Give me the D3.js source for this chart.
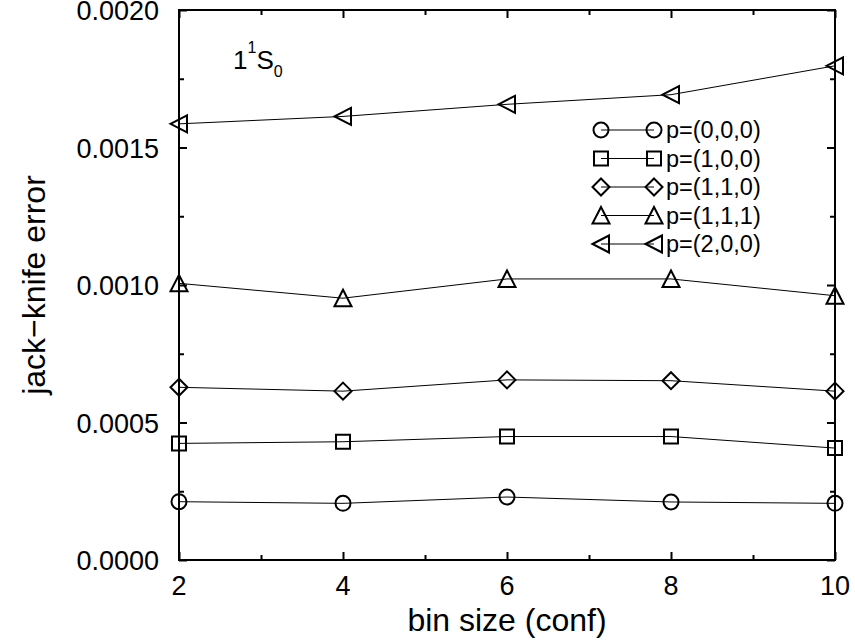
<!DOCTYPE html>
<html>
<head>
<meta charset="utf-8">
<script src="https://cdn.jsdelivr.net/npm/d3@7"></script>
<style>
  html, body { margin: 0; padding: 0; background: #fff; }
  svg { display: block; font-family: "Liberation Sans", Arial, Helvetica, sans-serif; }
</style>
</head>
<body>
<svg id="chart" width="855" height="644"></svg>
<script>
// ---- data ----
const binSizes = [2, 4, 6, 8, 10];
const seriesNames = ["p=(0,0,0)", "p=(1,0,0)", "p=(1,1,0)", "p=(1,1,1)", "p=(2,0,0)"];
const seriesSymbols = ["circle", "square", "diamond", "triangleUp", "triangleLeft"];
const err000 = [0.000212, 0.000206, 0.000229, 0.000211, 0.000206];
const err100 = [0.000424, 0.000430, 0.000449, 0.000449, 0.000407];
const err110 = [0.000628, 0.000614, 0.000655, 0.000652, 0.000614];
const err111 = [0.001006, 0.000952, 0.001022, 0.001022, 0.000961];
const err200 = [0.001586, 0.001613, 0.001657, 0.001692, 0.001797];
const seriesValues = [err000, err100, err110, err111, err200];
const xMajorTicks = [2, 4, 6, 8, 10];
const xMinorTicks = [3, 5, 7, 9];
const yMajorTicks = [0, 0.0005, 0.0010, 0.0015, 0.0020];
const yMinorTicks = [0.00025, 0.00075, 0.00125, 0.00175];
const xLabel = "bin size (conf)";
const yLabel = "jack\u2212knife error";

// ---- layout ----
const L = 179, R = 835, T = 10, B = 560;

const svg = d3.select("#chart");
const x = d3.scaleLinear().domain([2, 10]).range([L, R]);
const y = d3.scaleLinear().domain([0, 0.002]).range([B, T]);

function txt(g, tx, ty, str, size, anchor) {
  return g.append("text")
    .attr("x", tx).attr("y", ty)
    .attr("text-anchor", anchor || "start")
    .attr("font-size", size)
    .attr("fill", "#000")
    .text(str);
}

// ---- axes (ticks inward, mirrored) ----
function tickAxis(axisFn, scale, values, size, tr) {
  const g = svg.append("g").attr("transform", tr)
    .call(axisFn(scale).tickValues(values).tickSize(size).tickFormat(""));
  g.select(".domain").remove();
  g.selectAll(".tick line").attr("stroke", "#000").attr("stroke-width", 2);
  return g;
}
const MAJ = 8, MIN = 5;
tickAxis(d3.axisBottom, x, xMajorTicks, -MAJ, `translate(0,${B})`);
tickAxis(d3.axisBottom, x, xMinorTicks, -MIN, `translate(0,${B})`);
tickAxis(d3.axisTop, x, xMajorTicks, -MAJ, `translate(0,${T})`);
tickAxis(d3.axisTop, x, xMinorTicks, -MIN, `translate(0,${T})`);
tickAxis(d3.axisLeft, y, yMajorTicks, -MAJ, `translate(${L},0)`);
tickAxis(d3.axisLeft, y, yMinorTicks, -MIN, `translate(${L},0)`);
tickAxis(d3.axisRight, y, yMajorTicks, -MAJ, `translate(${R},0)`);
tickAxis(d3.axisRight, y, yMinorTicks, -MIN, `translate(${R},0)`);

svg.append("rect")
  .attr("x", L).attr("y", T).attr("width", R - L).attr("height", B - T)
  .attr("fill", "none").attr("stroke", "#000").attr("stroke-width", 2);

// tick labels
const labels = svg.append("g");
xMajorTicks.forEach(v => txt(labels, x(v), 595, d3.format("d")(v), 27, "middle"));
yMajorTicks.forEach(v => txt(labels, 159, y(v) + 10, d3.format(".4f")(v), 27, "end"));

// axis titles
txt(svg, (L + R) / 2, 631, xLabel, 32, "middle");
svg.append("text")
  .attr("transform", `translate(45,${(T + B) / 2}) rotate(-90)`)
  .attr("text-anchor", "middle").attr("font-size", 32).attr("fill", "#000")
  .text(yLabel);

// annotation 1^1S_0
const ann = svg.append("text")
  .attr("x", 233).attr("y", 69)
  .attr("font-size", 26).attr("fill", "#000");
ann.append("tspan").text("1");
ann.append("tspan").attr("font-size", 16).attr("dy", -16).text("1");
ann.append("tspan").attr("dy", 16).text("S");
ann.append("tspan").attr("font-size", 16).attr("dy", 8).text("0");

// ---- markers ----
function markerPath(type) {
  switch (type) {
    case "circle": return "M7.5,0A7.5,7.5 0 1,1 -7.5,0A7.5,7.5 0 1,1 7.5,0Z";
    case "square": return "M-7,-7H7V7H-7Z";
    case "diamond": return "M0,-8.5L8.5,0L0,8.5L-8.5,0Z";
    case "triangleUp": return "M0,-8.5L8.5,8L-8.5,8Z";
    case "triangleLeft": return "M-8.5,0L8,-8.5L8,8.5Z";
  }
}

const line = d3.line().x(d => x(d[0])).y(d => y(d[1]));
const plot = svg.append("g");
seriesValues.forEach((vals, i) => {
  const pts = binSizes.map((b, j) => [b, vals[j]]);
  plot.append("path").datum(pts).attr("d", line)
    .attr("fill", "none").attr("stroke", "#000").attr("stroke-width", 1);
  plot.selectAll(null).data(pts).enter().append("path")
    .attr("transform", d => `translate(${x(d[0])},${y(d[1])})`)
    .attr("d", markerPath(seriesSymbols[i]))
    .attr("fill", "none").attr("stroke", "#000").attr("stroke-width", 2);
});

// ---- legend ----
const leg = svg.append("g");
const legY0 = 130, legDY = 28.5, legX1 = 601, legX2 = 654, legTX = 666;
seriesNames.forEach((name, i) => {
  const yy = legY0 + i * legDY;
  leg.append("line").attr("x1", legX1).attr("x2", legX2).attr("y1", yy).attr("y2", yy)
    .attr("stroke", "#000").attr("stroke-width", 1);
  [legX1, legX2].forEach(xx => {
    leg.append("path").attr("transform", `translate(${xx},${yy})`)
      .attr("d", markerPath(seriesSymbols[i]))
      .attr("fill", "none").attr("stroke", "#000").attr("stroke-width", 2);
  });
  txt(leg, legTX, yy + 8, name, 23.5, "start");
});
</script>
</body>
</html>
